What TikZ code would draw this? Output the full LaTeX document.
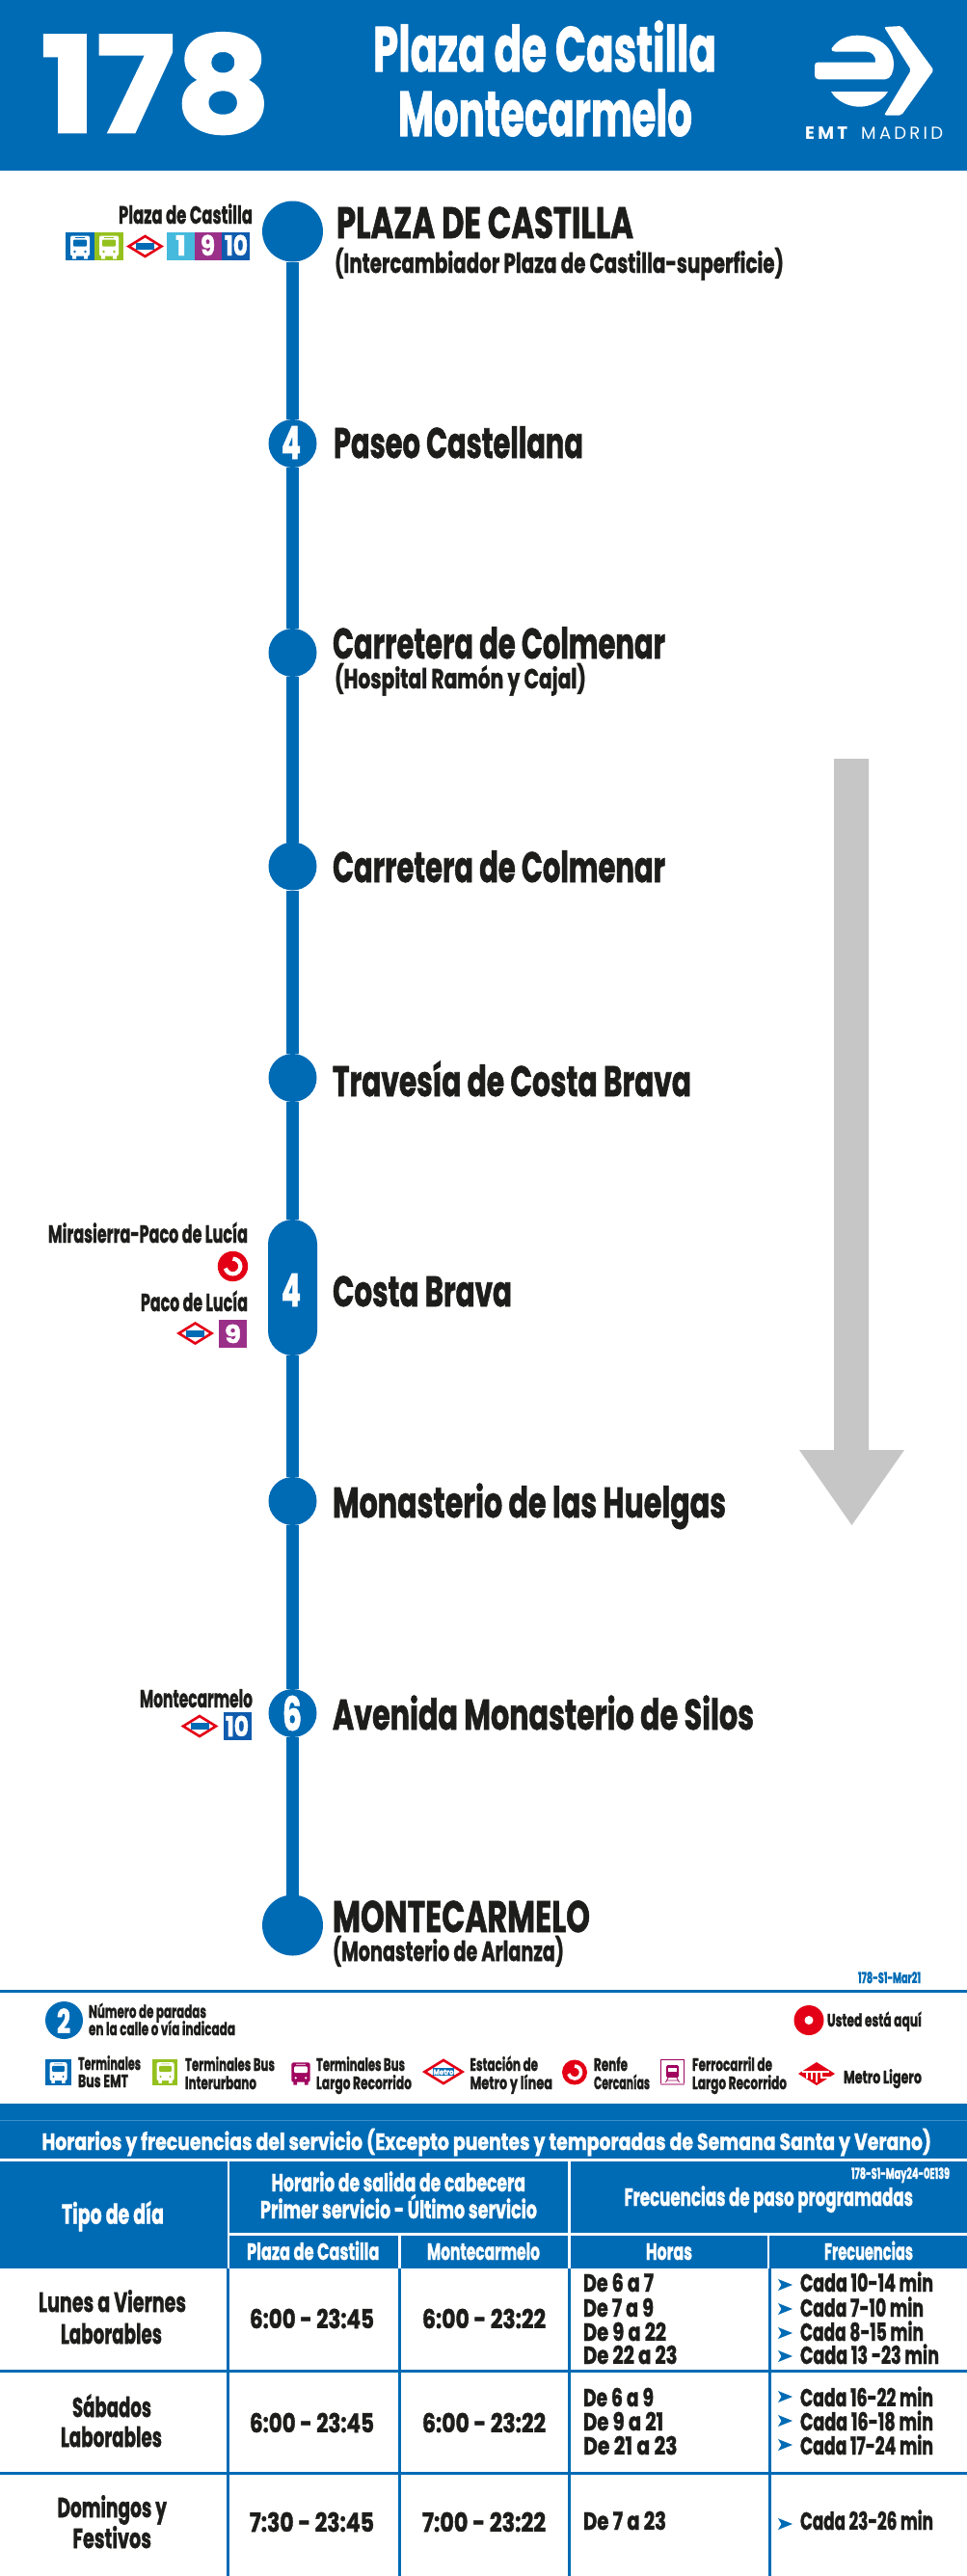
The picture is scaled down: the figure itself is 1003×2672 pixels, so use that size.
\documentclass[tikz,border=0pt]{standalone}
\usepackage{graphicx}
\usepackage{fontspec}
\setmainfont{Poppins}[BoldFeatures={FakeBold=1.6}]
\newfontfamily\spaced{Poppins}[LetterSpace=18]
\definecolor{emt}{HTML}{006BB5}
\definecolor{ink}{HTML}{1D1D1B}
\definecolor{greyarrow}{HTML}{C6C6C6}
\definecolor{greenbus}{HTML}{95C11F}
\definecolor{cyanl}{HTML}{45BADD}
\definecolor{violetl}{HTML}{9B3089}
\definecolor{bluel}{HTML}{0F5BAE}
\definecolor{metrored}{HTML}{E30016}
\definecolor{purplebus}{HTML}{A0045F}
\definecolor{ruleglow}{HTML}{3E8FCB}
\newsavebox\tbox
\newcounter{tn}
% colour, x, baseline, width, cap height, text
\newcommand\T[6][ink]{\stepcounter{tn}\node[name=t\arabic{tn},anchor=base west,inner sep=0pt,outer sep=0pt,text=#1] at (#2,#3) {\pgfmathsetmacro\tsz{#5/0.7}\sbox\tbox{\fontsize{\tsz pt}{\tsz pt}\selectfont\bfseries #6}\pgfmathsetmacro\txs{#4/\the\wd\tbox}\scalebox{\txs}[1]{\usebox\tbox}};}
\newcommand\busic[5]{\begin{scope}[shift={(#1,#2)},scale=#3/30]
\fill[#4,rounded corners=2pt] (5,3.5) rectangle (25,24.5);
\fill[#4] (7,24) rectangle (11,27.5) (19,24) rectangle (23,27.5);
\fill[#5,rounded corners=1pt] (8,7.5) rectangle (22,14.5);
\fill[#5] (9.5,20) circle (1.3) (20.5,20) circle (1.3) (10,5) rectangle (20,5.8);
\end{scope}}
\newcommand\metrosign[3]{\begin{scope}[shift={(#1,#2)},scale=#3]
\draw[metrored,line width=2.6pt,fill=white,line join=miter] (-17,0)--(0,-10.5)--(17,0)--(0,10.5)--cycle;
\fill[emt] (-9.5,-3.5) rectangle (9.5,3.5);
\end{scope}}
\newcommand\renfe[3]{\fill[metrored] (#1,#2) circle (#3);
\draw[white,line width=#3*0.27pt] (#1,#2-#3*0.5) arc[start angle=-90,end angle=165,radius=#3*0.5];}
\newcommand\chev[2]{\fill[emt] (#1,#2-6)--(#1+15,#2)--(#1,#2+6)--(#1+3.5,#2)--cycle;}
\tikzset{
  stopnode/.style={circle,fill=emt,inner sep=0pt,minimum size=50pt,outer sep=0pt},
  endnode/.style={circle,fill=emt,inner sep=0pt,minimum size=63pt,outer sep=0pt},
  pillnode/.style={rectangle,rounded corners=25.5pt,fill=emt,inner sep=0pt,minimum width=51pt,minimum height=141pt,outer sep=0pt},
  route/.style={draw=emt,line width=13pt},
  hairw/.style={fill=white},
  cellrule/.style={fill=emt}
}
\begin{document}
\begin{tikzpicture}[x=1pt,y=-1pt]
\useasboundingbox (0,0) rectangle (1003,2672);
\fill[white] (0,0) rectangle (1003,2672);
% header
\fill[emt] (0,0) rectangle (1003,177);
\T[white]{42}{137.3}{239}{97}{178}
\T[white]{387}{74}{356}{46}{Plaza de Castilla}
\T[white]{413}{141}{305}{46}{Montecarmelo}
% logo
\fill[white,rounded corners=2pt] (917,28)--(935,27)--(968.5,72.7)--(935,119.5)--(917,119.5)--(945,72.7)--cycle;
\fill[white] (849,64.5)--(908,64.5) .. controls (909,58) and (904,53.5) .. (898,53.5)--(866,53.5) .. controls (863.5,53.5) and (862,52) .. (862.5,50.5) .. controls (868,42) and (877,36.7) .. (889,36.7) .. controls (910,36.7) and (927,48) .. (927,67) .. controls (927,74) and (924,82.3) .. (918,82.3)--(849,82.3) .. controls (846,82.3) and (845,80) .. (845,78)--(845,68) .. controls (845,66) and (846,64.5) .. (849,64.5)--cycle;
\fill[white] (862,95)--(921,95) .. controls (915,105) and (903,110.7) .. (891.5,110.7) .. controls (880,110.7) and (868,105) .. (862,95)--cycle;
\node[name=emtb,anchor=base west,inner sep=0pt,text=white] at (835,144.7) {\resizebox{44pt}{!}{\spaced\bfseries EMT}};
\node[name=emtm,anchor=base west,inner sep=0pt,text=white] at (893,144.7) {\resizebox{85pt}{!}{\spaced MADRID}};
% grey direction arrow
\fill[greyarrow] (865,787)--(901,787)--(901,1504)--(938,1504)--(883.5,1582)--(829,1504)--(865,1504)--cycle;
% stops
\node[endnode] (s1) at (303.5,240) {};
\node[stopnode] (s2) at (303.5,460) {};
\node[stopnode] (s3) at (303.5,677) {};
\node[stopnode] (s4) at (303.5,898.5) {};
\node[stopnode] (s5) at (303.5,1118) {};
\node[pillnode] (s6) at (303.5,1335.5) {};
\node[stopnode] (s7) at (303.5,1557) {};
\node[stopnode] (s8) at (303.5,1777) {};
\node[endnode] (s9) at (303.5,1997) {};
\draw[route] (s1)--(s2);\draw[route] (s2)--(s3);\draw[route] (s3)--(s4);\draw[route] (s4)--(s5);
\draw[route] (s5)--(s6);\draw[route] (s6)--(s7);\draw[route] (s7)--(s8);\draw[route] (s8)--(s9);
\T[white]{292}{476}{20}{33}{4}
\T[white]{292}{1355}{20}{33}{4}
\T[white]{293}{1795}{20}{34}{6}
% stop names
\T{349}{247}{308}{32}{PLAZA DE CASTILLA}
\T{347}{283}{466}{20}{(Intercambiador Plaza de Castilla-superficie)}
\T{346}{475}{259}{31}{Paseo Castellana}
\T{345}{683}{345}{31}{Carretera de Colmenar}
\T{347}{714}{261}{20}{(Hospital Ramón y Cajal)}
\T{345}{915}{345}{31}{Carretera de Colmenar}
\T{345}{1137}{372}{31}{Travesía de Costa Brava}
\T{345}{1355}{186}{31}{Costa Brava}
\T{345}{1574}{408}{31}{Monasterio de las Huelgas}
\T{345}{1794}{437}{31}{Avenida Monasterio de Silos}
\T{345}{2004}{267}{32}{MONTECARMELO}
\T{345}{2034}{240}{20}{(Monasterio de Arlanza)}
% left labels
\T{123}{232}{139}{18}{Plaza de Castilla}
\fill[emt] (68,241) rectangle (98,270);
\busic{68}{241}{30}{white}{emt}
\fill[greenbus] (98,241) rectangle (127.5,270);
\busic{98}{241}{30}{white}{greenbus}
\metrosign{150.5}{255.5}{1}
\fill[cyanl] (173,241) rectangle (202,270);
\fill[violetl] (202,241) rectangle (230,270);
\fill[bluel] (230,241) rectangle (259,270);
\T[white]{182}{265}{11}{20}{1}
\T[white]{208}{265}{15}{20}{9}
\T[white]{233}{265}{24}{20}{10}
\T{50}{1289}{207}{18}{Mirasierra-Paco de Lucía}
\renfe{241.5}{1313.5}{15.7}
\T{146}{1360}{111}{18}{Paco de Lucía}
\metrosign{202.5}{1383}{1}
\fill[violetl] (227,1369) rectangle (256,1398);
\T[white]{233}{1393}{17}{18}{9}
\T{145}{1771}{117}{18}{Montecarmelo}
\metrosign{207}{1790.5}{1}
\fill[bluel] (232,1776) rectangle (261,1805);
\T[white]{234}{1801}{24}{20}{10}
% legend
\T[emt]{890}{2057}{65}{11}{178-S1-Mar21}
\fill[emt] (0,2064) rectangle (1003,2067);
\node[circle,fill=emt,minimum size=39pt,inner sep=0pt] (lg2) at (66.5,2095.5) {};
\T[white]{59}{2109}{14}{24}{2}
\T{92}{2093}{122}{13}{Número de paradas}
\T{92}{2111}{152}{13}{en la calle o vía indicada}
\node[circle,fill=metrored,minimum size=31pt,inner sep=0pt] (lgu) at (839,2095.5) {};
\node[circle,fill=white,minimum size=9pt,inner sep=0pt] (lgi) at (839,2095.5) {};
\T{858}{2102}{98}{13}{Usted está aquí}
\fill[emt] (47,2136) rectangle (74,2163);
\busic{47}{2136}{27}{white}{emt}
\T{81}{2147}{65}{13}{Terminales}
\T{81}{2165}{52}{13}{Bus EMT}
\fill[greenbus] (158,2136) rectangle (184,2163);
\busic{158}{2136}{27}{white}{greenbus}
\T{192}{2148}{93}{13}{Terminales Bus}
\T{192}{2167}{74}{13}{Interurbano}
\busic{297.5}{2136}{29}{purplebus}{white}
\T{328}{2148}{92}{13}{Terminales Bus}
\T{328}{2167}{99}{13}{Largo Recorrido}
\metrosign{460}{2149}{1.15}
\T[white]{449.5}{2152}{21}{5.5}{Metro}
\T{487.5}{2148}{70.5}{13}{Estación de}
\T{487.5}{2167}{85.5}{13}{Metro y línea}
\renfe{596}{2149.5}{13}
\T{616}{2148}{35}{13}{Renfe}
\T{616}{2167}{58}{13}{Cercanías}
\draw[purplebus,line width=0.8pt,fill=white] (685.5,2136.5) rectangle (709.5,2162);
\fill[purplebus!45] (685,2161) rectangle (710,2163);
\fill[purplebus,rounded corners=1.5pt] (691,2142) rectangle (704,2155);
\fill[white] (693,2145) rectangle (702,2149);
\draw[purplebus,line width=0.8pt] (693,2155)--(690.5,2160) (702,2155)--(704.5,2160) (691.5,2158)--(703.5,2158);
\T{718}{2148}{83}{13}{Ferrocarril de}
\T{718}{2167}{98}{13}{Largo Recorrido}
\fill[metrored] (828,2151)--(847,2139)--(866,2151)--(847,2163)--cycle;
\draw[white,line width=1.4pt] (832,2149)--(860,2149) (837,2149)--(837,2155.5) (842,2149)--(842,2157) (847,2149)--(847,2160) (852,2149)--(852,2155)--(862,2155);
\T{875}{2161}{81}{13}{Metro Ligero}
% timetable header
\fill[emt] (0,2182) rectangle (1003,2239);
\fill[ruleglow] (0,2198.7) rectangle (1003,2199.7);
\fill[emt] (0,2242) rectangle (1003,2353);
\fill[white] (235.5,2242) rectangle (238,2353);
\fill[white] (589,2242) rectangle (592,2353);
\fill[white] (237,2316) rectangle (1003,2319);
\fill[white] (413,2318) rectangle (416,2353);
\fill[white] (795.5,2318) rectangle (798,2353);
\T[white]{43.5}{2230}{922.5}{17}{Horarios y frecuencias del servicio (Excepto puentes y temporadas de Semana Santa y Verano)}
\T[white]{64}{2306.7}{106}{20}{Tipo de día}
\T[white]{281.5}{2273}{263.5}{18}{Horario de salida de cabecera}
\T[white]{270}{2301}{287}{18}{Primer servicio - Último servicio}
\T[white]{883}{2260}{102}{11}{178-S1-May24-0E139}
\T[white]{647.5}{2288}{299.5}{18}{Frecuencias de paso programadas}
\T[white]{256}{2344}{137.5}{17}{Plaza de Castilla}
\T[white]{443}{2344}{117}{17}{Montecarmelo}
\T[white]{670}{2344}{48}{17}{Horas}
\T[white]{855}{2344}{92}{17}{Frecuencias}
% timetable grid
\fill[cellrule] (235,2353) rectangle (238,2672);
\fill[cellrule] (413,2353) rectangle (416,2672);
\fill[cellrule] (589,2353) rectangle (592,2672);
\fill[cellrule] (797,2353) rectangle (800,2672);
\fill[cellrule] (0,2458) rectangle (1003,2461);
\fill[cellrule] (0,2564) rectangle (1003,2567);
% row 1
\T{40}{2398}{153}{20}{Lunes a Viernes}
\T{63}{2431}{105}{20}{Laborables}
\T{259}{2415}{129}{19}{6:00 - 23:45}
\T{438}{2415}{128}{19}{6:00 - 23:22}
\T{605}{2377}{73}{18}{De 6 a 7}
\T{605}{2403}{73}{18}{De 7 a 9}
\T{605}{2428}{86}{18}{De 9 a 22}
\T{605}{2452}{97.5}{18}{De 22 a 23}
\chev{807}{2370}\chev{807}{2395}\chev{807}{2420}\chev{807}{2444}
\T{830}{2377}{138}{18}{Cada 10-14 min}
\T{830}{2403}{128}{18}{Cada 7-10 min}
\T{830}{2428}{128}{18}{Cada 8-15 min}
\T{830}{2452}{144}{18}{Cada 13 -23 min}
% row 2
\T{75}{2507}{82}{20}{Sábados}
\T{63}{2538}{105}{20}{Laborables}
\T{259}{2523}{129}{19}{6:00 - 23:45}
\T{438}{2523}{128}{19}{6:00 - 23:22}
\T{605}{2496}{73}{18}{De 6 a 9}
\T{605}{2521}{83}{18}{De 9 a 21}
\T{605}{2546}{97.5}{18}{De 21 a 23}
\chev{807}{2486}\chev{807}{2511}\chev{807}{2536}
\T{830}{2496}{138}{18}{Cada 16-22 min}
\T{830}{2521}{138}{18}{Cada 16-18 min}
\T{830}{2546}{138}{18}{Cada 17-24 min}
% row 3
\T{59.5}{2611}{113.5}{20}{Domingos y}
\T{75.5}{2643}{81.5}{20}{Festivos}
\T{259}{2626}{129}{19}{7:30 - 23:45}
\T{438}{2626}{128}{19}{7:00 - 23:22}
\T{605}{2624}{86}{18}{De 7 a 23}
\chev{807}{2618}
\T{830}{2624}{138}{18}{Cada 23-26 min}
\end{tikzpicture}
\end{document}
